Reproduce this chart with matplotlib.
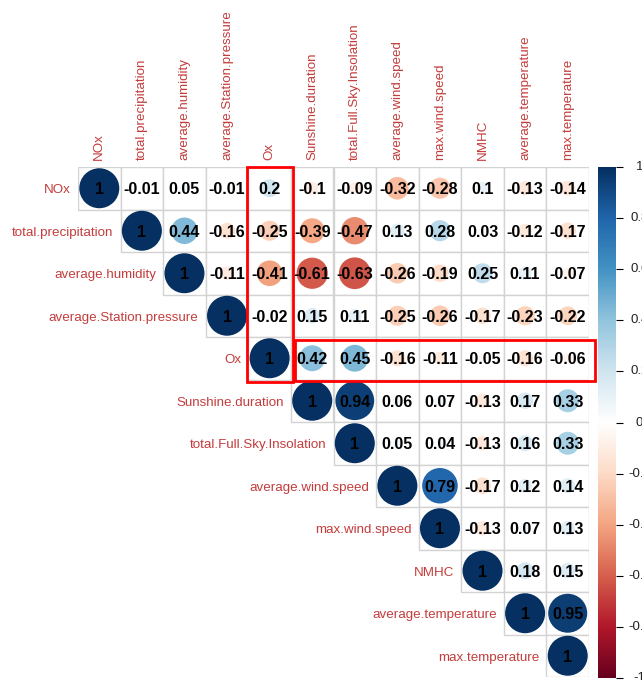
import matplotlib
matplotlib.use("Agg")
import matplotlib.pyplot as plt
import numpy as np
from matplotlib.colors import LinearSegmentedColormap
from matplotlib.patches import Circle, Rectangle

# variable names (rows and columns)
names = ["NOx", "total.precipitation", "average.humidity", "average.Station.pressure",
         "Ox", "Sunshine.duration", "total.Full.Sky.Insolation", "average.wind.speed",
         "max.wind.speed", "NMHC", "average.temperature", "max.temperature"]

# upper triangle of the correlation matrix, row by row (diagonal first)
r_nox = [1, -0.01, 0.05, -0.01, 0.2, -0.1, -0.09, -0.32, -0.28, 0.1, -0.13, -0.14]
r_precip = [1, 0.44, -0.16, -0.25, -0.39, -0.47, 0.13, 0.28, 0.03, -0.12, -0.17]
r_humid = [1, -0.11, -0.41, -0.61, -0.63, -0.26, -0.19, 0.25, 0.11, -0.07]
r_press = [1, -0.02, 0.15, 0.11, -0.25, -0.26, -0.17, -0.23, -0.22]
r_ox = [1, 0.42, 0.45, -0.16, -0.11, -0.05, -0.16, -0.06]
r_sun = [1, 0.94, 0.06, 0.07, -0.13, 0.17, 0.33]
r_insol = [1, 0.05, 0.04, -0.13, 0.16, 0.33]
r_wind = [1, 0.79, -0.17, 0.12, 0.14]
r_maxwind = [1, -0.13, 0.07, 0.13]
r_nmhc = [1, 0.18, 0.15]
r_avgtemp = [1, 0.95]
r_maxtemp = [1]
rows = [r_nox, r_precip, r_humid, r_press, r_ox, r_sun, r_insol, r_wind,
        r_maxwind, r_nmhc, r_avgtemp, r_maxtemp]

cbar_ticks = [1, 0.8, 0.6, 0.4, 0.2, 0, -0.2, -0.4, -0.6, -0.8, -1]

# corrplot's default RdBu palette
cmap = LinearSegmentedColormap.from_list("rdbu", [
    "#67001F", "#B2182B", "#D6604D", "#F4A582", "#FDDBC7", "#FFFFFF",
    "#D1E5F0", "#92C5DE", "#4393C3", "#2166AC", "#053061"])

label_col = "#C43C3C"
n = len(names)
W, H = 642, 680

fig = plt.figure(figsize=(W / 100, H / 100), dpi=100)
ax = fig.add_axes([78 / W, 1 - 677 / H, 511 / W, 510 / H])
ax.set_xlim(0, n)
ax.set_ylim(n, 0)
ax.axis("off")

for i, row in enumerate(rows):
    for k, v in enumerate(row):
        j = i + k
        ax.add_patch(Rectangle((j, i), 1, 1, facecolor="white", edgecolor="#D3D3D3",
                               linewidth=1, zorder=1))
        ax.add_patch(Circle((j + 0.5, i + 0.5), 0.47 * np.sqrt(abs(v)),
                            facecolor=cmap((v + 1) / 2), edgecolor="none", zorder=2))
        ax.text(j + 0.5, i + 0.53, f"{v:g}", ha="center", va="center",
                fontsize=11.5, fontweight="bold", family="Liberation Sans",
                color="black", zorder=3)
    # row label, to the left of the diagonal cell
    ax.text(i - 0.17, i + 0.55, names[i], ha="right", va="center", fontsize=9.6,
            family="Liberation Sans", color=label_col)
    # column label, rotated above the grid
    ax.text(i + 0.5, -0.17, names[i], ha="center", va="bottom", rotation=90,
            fontsize=9.6, family="Liberation Sans", color=label_col)

# red highlight boxes around the Ox column and row
ax.add_patch(Rectangle((3.98, 0.0), 1.08, 5.05, fill=False, edgecolor="red",
                       linewidth=2, clip_on=False, zorder=4))
ax.add_patch(Rectangle((5.1, 4.07), 7.05, 0.96, fill=False, edgecolor="red",
                       linewidth=2, clip_on=False, zorder=4))

# colour bar
cax = fig.add_axes([598 / W, 1 - 678 / H, 18 / W, 511 / H])
grad = np.linspace(-1, 1, 256).reshape(-1, 1)
cax.imshow(grad, cmap=cmap, aspect="auto", origin="lower", extent=(0, 1, -1, 1))
cax.set_xlim(0, 1)
cax.set_ylim(-1, 1)
cax.set_xticks([])
cax.yaxis.tick_right()
cax.set_yticks(cbar_ticks)
cax.set_yticklabels([])
cax.tick_params(axis="y", length=5, width=0.8)
# tick labels centred just right of the bar (partly beyond the picture edge, as in the source)
for t in cbar_ticks:
    cax.text(2.3, t, f"{t:g}", ha="center", va="center", fontsize=9.5,
             family="Liberation Sans", color="#222222", clip_on=False)
for s in cax.spines.values():
    s.set_visible(False)

fig.savefig("out.png", dpi=100)
